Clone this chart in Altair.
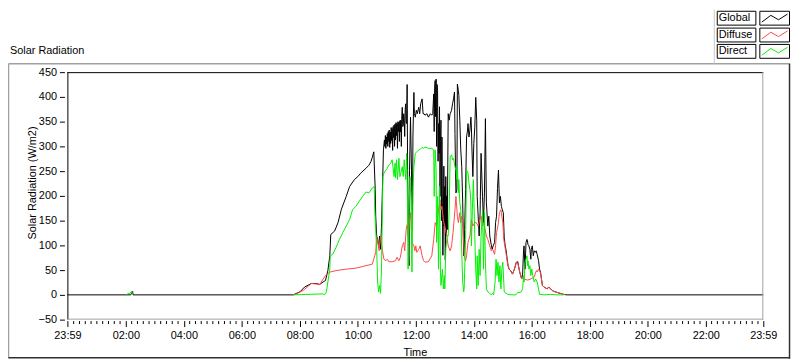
import altair as alt
import pandas as pd

# ---------------- data (clock minutes after 00:00; -1 = 23:59 of the previous day) -------------
global_time = [
    -1, 130, 132, 134, 135, 466, 480, 490, 504, 514,
    521, 528, 533, 538, 542, 544, 552, 559, 566, 576,
    583, 593, 600, 606, 617, 623, 627, 630, 633, 636,
    637, 639, 641, 643, 645, 647, 649, 651, 653, 655,
    656, 657, 658, 659, 660, 661, 662, 663, 664, 665,
    666, 667, 668, 669, 670, 671, 672, 673, 674, 675,
    676, 677, 678, 679, 680, 681, 682, 683, 684, 685,
    686, 687, 688, 689, 690, 691, 692, 693, 694, 695,
    696, 697, 698, 699, 700, 701, 702, 703, 705, 706,
    707, 709, 711, 713, 714, 716, 717, 719, 721, 723,
    726, 728, 730, 733, 735, 737, 739, 743, 746, 750,
    753, 755, 757, 758, 759, 760, 761, 762, 763, 764,
    765, 766, 767, 768, 769, 770, 771, 772, 773, 774,
    775, 776, 777, 778, 779, 780, 781, 782, 783, 784,
    785, 787, 789, 791, 794, 796, 798, 800, 801, 803,
    805, 806, 808, 809, 811, 813, 815, 817, 819, 820,
    821, 823, 825, 827, 828, 830, 832, 834, 835, 836,
    838, 840, 842, 844, 846, 847, 849, 851, 853, 855,
    858, 860, 862, 864, 866, 869, 871, 873, 876, 878,
    880, 883, 885, 887, 889, 891, 893, 895, 897, 899,
    901, 903, 905, 907, 909, 911, 913, 916, 918, 920,
    924, 928, 931, 933, 935, 937, 939, 941, 943, 944,
    946, 948, 950, 951, 952, 954, 956, 958, 959, 961,
    963, 965, 967, 969, 971, 974, 976, 978, 980, 982,
    985, 992, 995, 999, 1002, 1006, 1012, 1019, 1026, 1033,
    1439,
]
global_value = [
    0, 0, 4, 7, 0, 0, 6, 16, 23, 23,
    21, 26, 29, 49, 79, 122, 129, 146, 173, 199,
    219, 233, 239, 246, 256, 262, 269, 278, 289, 213,
    159, 119, 112, 96, 119, 92, 139, 219, 293, 313,
    300, 322, 296, 319, 305, 326, 300, 330, 310, 333,
    298, 329, 306, 338, 312, 336, 292, 340, 318, 343,
    300, 345, 313, 348, 322, 346, 296, 350, 330, 349,
    310, 352, 329, 353, 300, 362, 379, 340, 343, 366,
    353, 320, 375, 386, 350, 346, 425, 252, 79, 59,
    252, 359, 252, 132, 319, 409, 366, 359, 373, 366,
    379, 366, 386, 396, 366, 366, 363, 366, 359, 366,
    363, 366, 406, 330, 420, 433, 360, 436, 300, 425,
    413, 270, 346, 286, 380, 199, 310, 353, 150, 319,
    186, 80, 152, 260, 139, 219, 70, 239, 120, 200,
    132, 366, 353, 366, 373, 386, 396, 410, 326, 206,
    213, 426, 413, 403, 353, 293, 259, 186, 79, 92,
    132, 213, 319, 333, 346, 319, 333, 359, 339, 299,
    239, 306, 339, 399, 353, 199, 159, 119, 166, 286,
    199, 146, 206, 356, 186, 139, 159, 119, 102, 92,
    99, 106, 146, 159, 215, 252, 186, 199, 179, 172,
    166, 115, 99, 89, 72, 59, 52, 49, 46, 42,
    52, 66, 67, 56, 46, 39, 32, 42, 92, 99,
    52, 106, 112, 109, 102, 99, 92, 72, 92, 99,
    79, 89, 86, 89, 82, 69, 52, 46, 32, 19,
    16, 12, 16, 12, 9, 7, 5, 3, 1, 0,
    0,
]

diffuse_time = [
    466, 473, 487, 504, 521, 533, 542, 555, 576, 596,
    617, 630, 637, 639, 642, 644, 647, 651, 654, 658,
    661, 664, 671, 678, 681, 685, 688, 692, 695, 697,
    700, 702, 704, 705, 709, 712, 716, 718, 720, 722,
    726, 729, 733, 736, 739, 746, 753, 757, 760, 763,
    767, 770, 772, 774, 777, 780, 784, 787, 791, 794,
    797, 801, 803, 804, 806, 808, 811, 813, 815, 818,
    820, 823, 825, 828, 832, 835, 838, 842, 845, 849,
    852, 855, 858, 860, 862, 866, 869, 873, 876, 879,
    883, 885, 887, 890, 893, 896, 900, 902, 907, 910,
    913, 918, 920, 924, 928, 931, 935, 937, 939, 941,
    944, 951, 958, 965, 968, 970, 971, 974, 976, 978,
    980, 982, 985, 992, 995, 999, 1002, 1006, 1012, 1019,
    1026, 1030,
]
diffuse_value = [
    0, 2, 9, 23, 21, 39, 46, 49, 52, 54,
    59, 62, 86, 116, 106, 89, 119, 89, 72, 69,
    72, 67, 67, 69, 76, 69, 76, 99, 106, 89,
    132, 142, 119, 132, 166, 106, 99, 89, 99, 86,
    92, 99, 79, 69, 66, 67, 79, 112, 146, 139,
    172, 192, 172, 179, 150, 139, 119, 99, 89, 99,
    126, 172, 199, 186, 159, 146, 166, 146, 159, 132,
    79, 69, 79, 106, 119, 152, 139, 146, 146, 139,
    152, 159, 139, 146, 139, 119, 112, 99, 89, 92,
    82, 99, 126, 139, 166, 172, 146, 112, 82, 62,
    52, 46, 42, 52, 66, 64, 46, 39, 32, 36,
    32, 30, 32, 36, 46, 49, 46, 52, 49, 44,
    32, 19, 16, 12, 16, 12, 9, 7, 5, 3,
    1, 0,
]

direct_time = [
    466, 528, 531, 535, 538, 542, 543, 548, 555, 562,
    569, 576, 583, 589, 596, 603, 610, 617, 623, 630,
    634, 635, 637, 639, 641, 643, 645, 647, 649, 651,
    652, 654, 658, 661, 664, 668, 671, 675, 677, 678,
    680, 682, 685, 687, 689, 692, 694, 696, 699, 701,
    703, 704, 706, 708, 710, 712, 714, 716, 719, 722,
    726, 729, 733, 736, 739, 746, 753, 757, 758, 760,
    762, 763, 765, 767, 769, 771, 772, 775, 777, 779,
    780, 782, 785, 787, 789, 791, 794, 796, 798, 801,
    803, 805, 806, 808, 809, 811, 813, 815, 817, 819,
    820, 821, 823, 825, 828, 830, 832, 834, 835, 837,
    839, 840, 842, 844, 846, 847, 849, 851, 853, 855,
    858, 860, 862, 864, 866, 869, 873, 876, 879, 881,
    884, 886, 888, 890, 892, 894, 896, 898, 900, 902,
    903, 910, 917, 927, 931, 937, 941, 943, 944, 946,
    948, 950, 951, 952, 954, 956, 958, 960, 962, 965,
    968, 971, 974, 976, 985, 999, 1012, 1026,
]
direct_value = [
    0, 2, 0, 6, 26, 52, 79, 82, 96, 112,
    126, 139, 152, 172, 179, 189, 199, 208, 206, 216,
    219, 172, 132, 92, 26, 6, 19, 3, 52, 186,
    239, 246, 252, 256, 262, 266, 273, 239, 266, 236,
    273, 233, 276, 239, 246, 259, 239, 273, 233, 286,
    172, 52, 172, 239, 186, 46, 213, 259, 286, 289,
    293, 294, 298, 296, 299, 296, 296, 293, 199, 293,
    252, 106, 199, 52, 219, 46, 19, 52, 12, 39,
    12, 92, 120, 119, 172, 279, 283, 273, 276, 259,
    252, 233, 259, 206, 233, 186, 172, 86, 26, 6,
    12, 46, 112, 252, 246, 226, 213, 186, 99, 172,
    233, 199, 119, 52, 12, 79, 19, 92, 39, 119,
    172, 52, 166, 66, 12, 6, 3, 0, 3, 0,
    26, 72, 39, 66, 26, 59, 12, 52, 66, 26,
    6, 1, 0, 0, 5, 5, 12, 39, 26, 66,
    72, 79, 59, 69, 52, 59, 39, 52, 39, 26,
    32, 26, 12, 1, 0, 1, 0, 0,
]

direct_night_time = [122, 124, 128, 132, 134]
direct_night_value = [0, 3, 3, 7, 0]

series_names = ["Global", "Diffuse", "Direct"]
series_colors = ["#000000", "#FF4848", "#00F000"]

y_ticks = [-50, 0, 50, 100, 150, 200, 250, 300, 350, 400, 450]
x_major_labels = ["23:59", "02:00", "04:00", "06:00", "08:00", "10:00", "12:00",
                  "14:00", "16:00", "18:00", "20:00", "22:00", "23:59"]

assert len(global_time) == len(global_value)
assert len(diffuse_time) == len(diffuse_value)
assert len(direct_time) == len(direct_value)


def seg_df(times, values, name, seg):
    return pd.DataFrame({"t": [m + 1 for m in times], "v": values, "series": name, "seg": seg})


lines = pd.concat([
    seg_df(global_time, global_value, "Global", "g"),
    seg_df(diffuse_time, diffuse_value, "Diffuse", "d"),
    seg_df(direct_time, direct_value, "Direct", "r"),
    seg_df(direct_night_time, direct_night_value, "Direct", "r0"),
], ignore_index=True)

# ---------------- layout ----------------
W, H = 703, 250
FONT = "Liberation Sans"

major_pos = [0] + [1 + 120 * k for k in range(1, 12)] + [1440]
minor_pos = [1 + 12 * k for k in range(1, 120) if k % 10 != 0]

pos_js = "[" + ",".join(str(p) for p in major_pos) + "]"
lab_js = "[" + ",".join("'%s'" % s for s in x_major_labels) + "]"
label_expr = f"indexof({pos_js}, datum.value) >= 0 ? {lab_js}[indexof({pos_js}, datum.value)] : ''"

x_scale = alt.Scale(domain=[0, 1440], nice=False, zero=False)
y_scale = alt.Scale(domain=[-50, 450], nice=False, zero=False)

x_axis = alt.Axis(values=major_pos, labelExpr=label_expr, tickSize=6, tickColor="black",
                  domain=False, grid=False, offset=1, labelPadding=3, labelFlush=False,
                  labelOverlap=False, labelBound=False, labelFont=FONT, labelFontSize=11,
                  labelColor="black", title=None)
y_axis = alt.Axis(values=y_ticks, tickSize=5, tickColor="black", domain=False, grid=False,
                  offset=3, labelPadding=3, labelFont=FONT, labelFontSize=11,
                  labelColor="black", title=None, labelFlush=False, labelOverlap=False)

color_scale = alt.Scale(domain=series_names, range=series_colors)


def series_layer(name):
    return alt.Chart(lines).transform_filter(alt.datum.series == name).mark_line(
        strokeWidth=1, interpolate="linear"
    ).encode(
        x=alt.X("t:Q", scale=x_scale, axis=x_axis),
        y=alt.Y("v:Q", scale=y_scale, axis=y_axis),
        color=alt.Color("series:N", scale=color_scale, legend=None),
        detail="seg:N",
        order="t:Q",
    )


one = pd.DataFrame({"k": [0]})


def hrule(x1, x2, y, color, w=1.0):
    return alt.Chart(one).mark_rule(color=color, strokeWidth=w).encode(
        x=alt.value(x1), x2=alt.value(x2), y=alt.value(y))


def vrule(x, y1, y2, color, w=1.0):
    return alt.Chart(one).mark_rule(color=color, strokeWidth=w).encode(
        x=alt.value(x), y=alt.value(y1), y2=alt.value(y2))


def box(x1, x2, y1, y2):
    return alt.Chart(one).mark_rect(fill="white", stroke="black", strokeWidth=1).encode(
        x=alt.value(x1), x2=alt.value(x2), y=alt.value(y1), y2=alt.value(y2))


def label(txt, x, y, align="left", angle=0, size=11):
    return alt.Chart(one).mark_text(text=txt, align=align, baseline="middle", font=FONT,
                                    fontSize=size, color="black", angle=angle).encode(
        x=alt.value(x), y=alt.value(y))


ZIG = "M-1,0.3L-0.3,-0.22L0.3,0.12L1,-0.32"


def glyph(color, x, y):
    return alt.Chart(one).mark_point(shape=ZIG, size=676, filled=False, color=color,
                                     strokeWidth=1, opacity=1).encode(
        x=alt.value(x), y=alt.value(y))


minor_df = pd.DataFrame({"t": minor_pos})
minor_ticks = alt.Chart(minor_df).mark_rule(color="black", strokeWidth=1).encode(
    x=alt.X("t:Q", scale=x_scale, axis=x_axis), y=alt.value(H + 1.5), y2=alt.value(H + 4.5))

layers = [
    # outer panel frame
    hrule(-59.5, 730, -8.5, "#A0A0A0", 1.5),
    vrule(-59.5, -8.5, 289, "#A0A0A0", 1.5),
    vrule(729.5, -8.5, 289.5, "#303030", 1.5),
    hrule(-59.5, 730, 288.5, "#303030", 1.5),
    # legend panel divider
    vrule(653.5, -63, -8.5, "#C8C8C8", 1),
    # data
    series_layer("Global"),
    series_layer("Diffuse"),
    series_layer("Direct"),
    minor_ticks,
    # plot area frame
    hrule(0, W, 0.5, "black"),
    vrule(0.5, 0, H, "black"),
    hrule(0, W, H - 0.5, "#A0A0A0"),
    vrule(W - 0.5, 0, H, "#A0A0A0"),
    # texts
    label("Solar Radiation", -58, -21),
    label("Solar Radiation (W/m2)", -35, 112, align="center", angle=270),
    label("Time", W / 2, 284, align="center"),
]

legend_rows = [(-62, -48), (-45, -31), (-28.5, -14.5)]
for name, col, (y1, y2) in zip(series_names, series_colors, legend_rows):
    layers.append(box(656.5, 695.5, y1 + 0.5, y2 + 0.5))
    layers.append(box(699.5, 729.5, y1 + 0.5, y2 + 0.5))
    layers.append(label(name, 658, (y1 + y2) / 2 + 0.5))
    layers.append(glyph(col, 714.5, (y1 + y2) / 2 + 0.5))

chart = alt.layer(*layers).properties(
    width=W, height=H,
    padding={"left": 60, "top": 63, "right": 29, "bottom": 40},
    autosize=alt.AutoSizeParams(type="none"),
    background="white",
).configure_view(strokeWidth=0)

chart.save("out.html", embed_options={"renderer": "svg", "actions": False})
